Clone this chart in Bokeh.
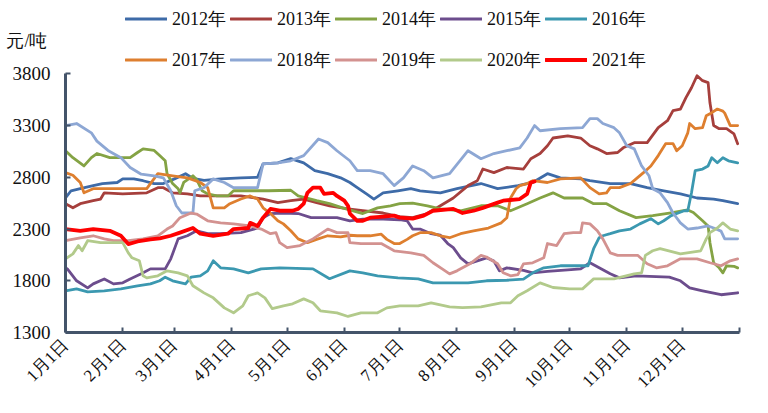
import math
from bokeh.plotting import figure
from bokeh.models import Legend, LegendItem, LinearAxis, FixedTicker, Range1d
from bokeh.embed import file_html
from bokeh.resources import INLINE

# ---- data (day of year, price in 元/吨) ----
years = ["2012年", "2013年", "2014年", "2015年", "2016年",
         "2017年", "2018年", "2019年", "2020年", "2021年"]

days_2012 = [0,3,8,15,20,28,31,37,42,48,53,59,65,69,75,84,95,104,107,115,122,129,135,142,149,154,158,163,167,172,180,187,192,203,212,225,234,245,253,261,268,279,284,295,306,315,324,333,342,351,356,364]
price_2012 = [2600,2670,2690,2720,2740,2750,2785,2785,2767,2740,2740,2785,2835,2790,2770,2785,2795,2800,2930,2940,2980,2940,2864,2835,2795,2750,2700,2640,2590,2650,2670,2690,2670,2650,2690,2740,2690,2720,2750,2835,2795,2785,2767,2740,2740,2700,2670,2640,2600,2590,2574,2545]

days_2013 = [0,4,8,15,19,21,31,44,50,53,58,66,73,95,107,115,122,129,136,143,153,161,172,181,188,196,203,210,218,223,226,232,239,248,252,257,261,264,272,279,284,288,293,299,302,308,315,321,326,329,333,336,339,342,345,348,349,351,354,358,362,364]
price_2013 = [2545,2505,2545,2574,2590,2650,2640,2650,2700,2700,2650,2640,2620,2620,2590,2555,2574,2590,2555,2525,2495,2477,2455,2420,2410,2450,2525,2600,2720,2767,2880,2845,2895,2880,2980,3030,3105,3180,3200,3180,3105,3075,3030,3040,3085,3135,3135,3280,3347,3444,3460,3570,3666,3782,3734,3715,3520,3300,3270,3270,3220,3125]

days_2014 = [0,4,10,14,17,24,35,39,42,48,51,54,55,58,61,62,64,69,71,74,77,82,88,91,110,122,126,136,143,150,161,169,176,181,188,196,203,214,225,234,241,250,257,264,270,280,286,293,300,309,318,327,337,340,345,348,349,351,354,356,358,362,364]
price_2014 = [3057,2990,2910,2990,3030,2990,2990,3040,3075,3060,3010,2960,2835,2740,2690,2650,2750,2815,2780,2670,2640,2620,2620,2670,2670,2675,2620,2574,2545,2505,2450,2505,2525,2545,2550,2525,2495,2477,2525,2525,2477,2545,2600,2650,2600,2600,2545,2545,2477,2410,2430,2455,2485,2460,2380,2330,2168,1974,1925,1877,1945,1940,1925]

days_2015 = [0,1,6,12,15,21,26,31,35,41,46,54,57,61,66,71,77,84,95,104,107,111,118,126,133,147,154,161,172,181,185,188,192,198,203,207,210,214,218,223,228,232,235,239,248,253,261,272,279,284,289,295,300,309,327,333,338,345,355,364]
price_2015 = [1925,1915,1800,1732,1770,1818,1770,1780,1818,1867,1915,1915,2012,2205,2235,2283,2255,2255,2265,2310,2410,2450,2455,2450,2410,2410,2380,2395,2395,2390,2380,2300,2300,2255,2240,2160,2120,2022,1964,1993,2022,1990,1896,1925,1900,1877,1890,1905,1915,1974,1925,1867,1828,1848,1835,1800,1732,1703,1665,1684]

days_2016 = [0,6,12,21,30,39,46,51,54,58,65,68,73,77,80,84,91,99,106,116,134,143,154,161,169,180,191,199,208,218,228,239,248,253,259,268,283,286,289,291,295,300,306,311,317,321,324,328,335,337,339,341,345,348,350,353,356,359,364]
price_2016 = [1703,1722,1693,1703,1722,1750,1770,1800,1835,1800,1770,1835,1848,1896,1993,1925,1915,1877,1915,1925,1915,1820,1896,1877,1848,1828,1818,1780,1780,1780,1800,1805,1815,1877,1925,1945,1945,2110,2216,2235,2255,2283,2300,2350,2400,2350,2380,2430,2477,2477,2650,2864,2880,2910,2990,2940,2990,2960,2940]

days_2017 = [0,4,8,10,15,31,44,50,58,66,73,77,80,86,89,95,100,104,107,111,115,118,122,126,131,136,142,149,154,158,165,171,174,178,181,185,188,192,198,203,208,214,221,229,236,239,241,244,246,250,253,261,268,279,284,289,293,295,300,306,309,313,317,321,325,329,331,334,337,338,341,345,347,350,353,356,357,360,364]
price_2017 = [2845,2820,2750,2650,2690,2690,2690,2835,2815,2795,2750,2700,2505,2505,2545,2590,2620,2590,2505,2450,2380,2350,2283,2205,2168,2200,2235,2225,2240,2235,2235,2250,2200,2160,2160,2200,2235,2265,2265,2235,2216,2255,2283,2310,2360,2410,2600,2690,2720,2740,2767,2750,2785,2795,2700,2640,2650,2700,2700,2740,2785,2845,2910,3010,3125,3125,3057,3105,3230,3320,3270,3280,3395,3425,3460,3440,3420,3300,3300]

days_2018 = [0,6,14,17,23,30,35,41,48,53,57,60,63,69,70,75,80,86,91,96,104,107,115,122,129,137,142,147,154,158,165,172,178,183,188,194,199,208,218,225,232,239,246,250,254,257,268,280,284,288,291,297,300,304,308,312,316,318,322,326,329,333,337,342,348,351,355,357,364]
price_2018 = [3300,3320,3230,3150,3060,2990,2895,2830,2815,2795,2670,2525,2455,2455,2670,2700,2785,2750,2700,2700,2700,2930,2940,2960,3010,3170,3135,3057,2960,2864,2864,2835,2720,2795,2910,2864,2795,2835,3057,2980,3030,3057,3085,3180,3300,3250,3270,3280,3367,3367,3320,3280,3230,3105,3075,2910,2815,2690,2650,2555,2455,2360,2300,2310,2330,2310,2280,2205,2205]

days_2019 = [0,8,15,21,26,34,42,50,55,58,62,68,71,77,84,91,100,106,111,114,116,120,127,134,142,147,153,154,160,171,178,187,194,199,204,208,212,219,225,228,234,237,241,245,248,253,259,261,266,270,275,279,280,284,288,291,295,299,310,315,320,326,333,342,349,355,360,364]
price_2019 = [2187,2215,2235,2205,2187,2187,2205,2235,2300,2330,2410,2455,2445,2380,2360,2350,2330,2300,2255,2265,2168,2120,2140,2205,2300,2265,2265,2168,2160,2160,2090,2070,2045,1974,1915,1867,1896,1964,2045,2030,1964,1877,1848,1860,1964,1974,2022,2160,2140,2255,2265,2265,2360,2350,2283,2205,2070,2045,2045,1964,1925,1945,2012,2012,1974,1945,1993,2012]

days_2020 = [0,4,7,9,12,19,31,34,36,40,42,44,50,55,61,66,69,75,80,86,91,96,99,104,108,112,118,123,129,134,138,147,153,160,169,174,181,191,198,208,215,225,236,241,245,250,257,264,273,280,286,297,308,312,314,318,322,333,344,347,349,353,356,360,364]
price_2020 = [2012,2060,2140,2090,2187,2168,2168,2070,2022,1993,1848,1828,1848,1896,1877,1848,1752,1683,1635,1538,1490,1558,1655,1683,1635,1530,1558,1577,1625,1587,1510,1490,1455,1490,1490,1538,1558,1558,1587,1548,1540,1548,1587,1587,1655,1703,1780,1735,1722,1722,1818,1818,1867,1877,2045,2090,2110,2060,2090,2205,2265,2310,2360,2300,2283]

days_2021 = [0,8,15,24,30,34,39,46,51,57,62,69,73,80,88,91,99,100,104,107,111,116,123,126,129,131,134,138,140,145,147,151,153,154,158,161,165,172,178,181,188,194,199,210,215,221,226,234,237,246,250,252,254]
price_2021 = [2300,2283,2300,2283,2235,2155,2180,2200,2210,2235,2265,2310,2255,2235,2255,2300,2310,2360,2330,2410,2495,2477,2477,2495,2545,2650,2700,2700,2640,2650,2620,2574,2525,2450,2380,2380,2410,2420,2430,2410,2400,2430,2477,2495,2455,2477,2505,2555,2574,2590,2640,2750,2760]

month_starts = [0, 31, 59, 90, 120, 151, 181, 212, 243, 273, 304, 334, 365]
month_labels = ["1月1日", "2月1日", "3月1日", "4月1日", "5月1日", "6月1日",
                "7月1日", "8月1日", "9月1日", "10月1日", "11月1日", "12月1日", ""]
y_ticks = [1300, 1800, 2300, 2800, 3300, 3800]
unit_text = "元/吨"

series_days = [days_2012, days_2013, days_2014, days_2015, days_2016,
               days_2017, days_2018, days_2019, days_2020, days_2021]
series_price = [price_2012, price_2013, price_2014, price_2015, price_2016,
                price_2017, price_2018, price_2019, price_2020, price_2021]
colors = ["#3E6BA8", "#A63F3C", "#84A344", "#6C4D8D", "#3B98B0",
          "#DE7F2F", "#8DA7D4", "#D39290", "#B2CA8B", "#FF0000"]
widths = [2.8] * 9 + [3.8]

FONT = "Liberation Serif"
AXIS_COLOR = "#44546A"

# Frame spans from the top of the canvas so the legend sits inside it;
# the value axis is bounded to 1300..3800 as in the reference.
Y_MIN, Y_MAX = 1300, 3800
Y_TOP = Y_MAX + (Y_MAX - Y_MIN) * 73.3 / 258.4
UNIT_POS = Y_MAX + (Y_MAX - Y_MIN) * 33.0 / 258.4

p = figure(width=768, height=413, output_backend="svg", toolbar_location=None,
           x_range=Range1d(0, 365), y_range=Range1d(Y_MIN, Y_TOP),
           min_border_left=65, min_border_right=29,
           min_border_top=0, min_border_bottom=81)
p.title.visible = False
p.outline_line_color = None
p.xgrid.visible = False
p.ygrid.visible = False
p.background_fill_color = "white"
p.border_fill_color = "white"

renderers = []
for d, v, c, w in zip(series_days, series_price, colors, widths):
    r = p.line(d, v, line_color=c, line_width=w, line_join="round", line_cap="round")
    renderers.append(r)

for ax in (p.xaxis[0], p.yaxis[0]):
    ax.axis_line_color = AXIS_COLOR
    ax.axis_line_width = 3
    ax.major_tick_line_color = AXIS_COLOR
    ax.major_tick_line_width = 2
    ax.major_tick_in = 5
    ax.major_tick_out = 0
    ax.minor_tick_line_color = None
    ax.major_label_text_font = FONT
    ax.major_label_text_color = "#111111"

p.yaxis.ticker = FixedTicker(ticks=y_ticks)
p.yaxis.bounds = (Y_MIN, Y_MAX)
p.yaxis.major_label_text_font_size = "19px"
p.yaxis.major_label_standoff = 15

p.xaxis.ticker = FixedTicker(ticks=month_starts)
p.xaxis.major_label_overrides = {m: lab for m, lab in zip(month_starts, month_labels)}
p.xaxis.major_label_orientation = math.pi / 4
p.xaxis.major_label_text_font_size = "17px"
p.xaxis.major_label_standoff = 10

# unit caption as a label-only axis on the left side
unit_axis = LinearAxis(ticker=FixedTicker(ticks=[UNIT_POS]),
                       major_label_overrides={UNIT_POS: unit_text},
                       axis_line_color=None, major_tick_line_color=None,
                       minor_tick_line_color=None,
                       major_tick_in=0, major_tick_out=0,
                       major_label_standoff=-38,
                       major_label_text_font=FONT,
                       major_label_text_font_size="18px",
                       major_label_text_color="#111111")
p.add_layout(unit_axis, "left")

items = [LegendItem(label=y, renderers=[r]) for y, r in zip(years, renderers)]
legend = Legend(items=items, location=(60, 254), orientation="horizontal", ncols=5,
                glyph_width=42, glyph_height=37, label_height=37, label_standoff=5,
                spacing=4, padding=0, margin=0,
                background_fill_alpha=0, border_line_alpha=0,
                label_text_font=FONT, label_text_font_size="18px",
                label_text_color="#111111")
p.add_layout(legend)

open("out.html", "w").write(file_html(p, INLINE))
